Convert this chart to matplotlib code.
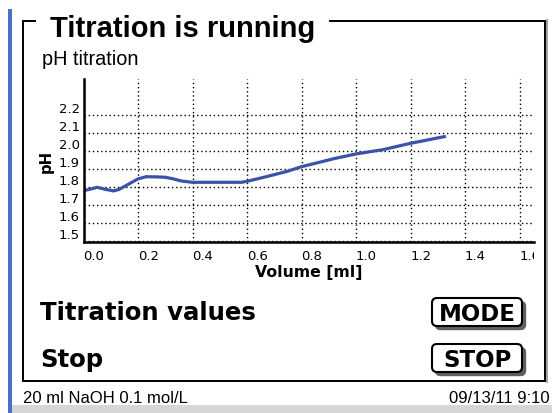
import matplotlib
matplotlib.use("Agg")
import matplotlib.pyplot as plt
from matplotlib.patches import FancyBboxPatch, Rectangle

# titration curve
volume = [0.0, 0.02, 0.05, 0.08, 0.11, 0.13, 0.16, 0.20, 0.23, 0.27, 0.30, 0.33,
          0.36, 0.40, 0.50, 0.58, 0.61, 0.67, 0.75, 0.80, 0.87, 0.92, 1.00, 1.10,
          1.20, 1.33]
ph = [1.778, 1.785, 1.797, 1.786, 1.777, 1.785, 1.810, 1.844, 1.856, 1.855, 1.853, 1.844,
      1.832, 1.825, 1.825, 1.825, 1.834, 1.856, 1.887, 1.912, 1.938, 1.957, 1.983, 2.007,
      2.042, 2.081]

x_ticks = [0.0, 0.2, 0.4, 0.6, 0.8, 1.0, 1.2, 1.4, 1.6]
y_ticks = [1.5, 1.6, 1.7, 1.8, 1.9, 2.0, 2.1, 2.2]

title = "Titration is running"
subtitle = "pH titration"
menu_items = ["Titration values", "Stop"]
buttons = ["MODE", "STOP"]
status_left = "20 ml NaOH 0.1 mol/L"
status_right = "09/13/11 9:10"

W, H = 552, 414
fig = plt.figure(figsize=(W / 100, H / 100), dpi=100)

# screen background, drawn in pixel units
bg = fig.add_axes([0, 0, 1, 1])
bg.set_xlim(0, W)
bg.set_ylim(H, 0)
bg.axis("off")

bg.add_patch(Rectangle((8.3, 10), 3.4, H - 10, color="#4a72c4", lw=0))
bg.add_patch(Rectangle((12, 406), W - 12, 8, color="#d6d6d6", lw=0))

bg.plot([35, 22.7, 22.7, 545, 545, 330], [21.7, 21.7, 381.7, 381.7, 21.7, 21.7],
        color="black", lw=1.4, solid_joinstyle="miter")
bg.plot([547, 547], [21, 383], color="#a0a0a0", lw=1.4)

bg.text(50, 36.7, title, fontsize=21, fontweight="bold",
        family="Liberation Sans", va="baseline")
bg.text(41.7, 65, subtitle, fontsize=14.3, family="Liberation Sans", va="baseline")

for label, base in zip(menu_items, [320, 366.7]):
    bg.text(40, base, label, fontsize=17.6, fontweight="bold",
            family="DejaVu Sans", va="baseline")

for label, top in zip(buttons, [299, 345]):
    shadow = FancyBboxPatch((435.5, top + 3.5), 90, 28,
                            boxstyle="round,pad=0,rounding_size=5",
                            fc="#606060", ec="#606060", lw=1)
    box = FancyBboxPatch((432, top), 90, 28,
                         boxstyle="round,pad=0,rounding_size=5",
                         fc="white", ec="black", lw=1.5)
    bg.add_patch(shadow)
    bg.add_patch(box)
    bg.text(477.5, top + 22.3, label, fontsize=16.5, fontweight="bold",
            family="DejaVu Sans", ha="center", va="baseline")

bg.text(22.7, 403.3, status_left, fontsize=12, family="Liberation Sans", va="baseline")
bg.text(550, 403.3, status_right, fontsize=12, family="Liberation Sans",
        va="baseline", ha="right")

# chart
ax = fig.add_axes([83.5 / W, 1 - 243.3 / H, (534 - 83.5) / W, (243.3 - 80) / H])
ax.patch.set_alpha(0)
ax.plot(volume, ph, color="#3b52a8", lw=2.3, solid_capstyle="butt")
ax.set_xlim(0, 1.653)
ax.set_ylim(1.491, 2.40)
ax.set_xticks(x_ticks)
ax.set_yticks(y_ticks)
ax.set_xticklabels([f"{v:.1f}" for v in x_ticks])
ax.set_yticklabels([f"{v:.1f}" for v in y_ticks])
ax.tick_params(length=0, labelsize=9.5)
ax.tick_params(axis="x", pad=4.5)
ax.tick_params(axis="y", pad=2.5)
plt.setp(ax.get_xticklabels(), ha="left")
plt.setp(ax.get_yticklabels(), va="bottom")
clip = Rectangle((0, 0), 534 / W, 1, transform=fig.transFigure)
for lab in ax.get_xticklabels():
    lab.set_clip_path(clip)
    lab.set_clip_on(True)

ax.grid(True, color="black", lw=1, linestyle=(0, (1, 2)))
for side in ["top", "right"]:
    ax.spines[side].set_visible(False)
for side in ["left", "bottom"]:
    ax.spines[side].set_linewidth(1.8)

ax.set_xlabel("Volume [ml]", fontsize=11.3, fontweight="bold", labelpad=2)
ax.set_ylabel("pH", fontsize=10.7, fontweight="bold", labelpad=4)

fig.savefig("out.png", dpi=100)
